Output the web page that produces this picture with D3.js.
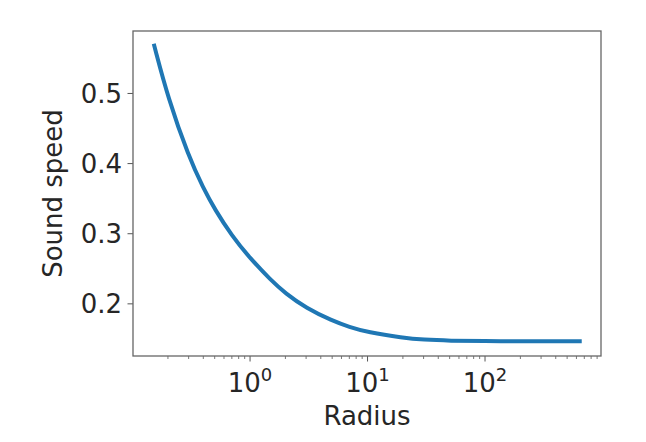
<!DOCTYPE html>
<meta charset="utf-8">
<html>
<head>
<title>Sound speed</title>
<script src="https://d3js.org/d3.v7.min.js"></script>
<style>
  body { margin: 0; background: #fff; }
  text { font-family: "DejaVu Sans", sans-serif; fill: #262626; }
</style>
</head>
<body>
<script>

// values
var radius = [0.153, 0.2, 0.3, 0.4, 0.5, 0.7, 1, 1.5, 2, 3, 5, 7, 10, 20, 30, 50, 100, 200, 400, 640];
var soundSpeed = [0.568, 0.494, 0.410, 0.365, 0.335, 0.297, 0.265, 0.234, 0.215, 0.194, 0.176, 0.167, 0.1595, 0.1515, 0.1488, 0.1474, 0.1468, 0.1467, 0.1467, 0.1467];
var yTicks = [0.2, 0.3, 0.4, 0.5];
var xDecades = [0, 1, 2];

var width = 646,
    height = 442,
    margin = {top: 31, right: 45, bottom: 86, left: 133};

var svg = d3.select("body").append("svg")
    .attr("width", width)
    .attr("height", height);

// matplotlib style 5% margins
var lx = d3.extent(radius).map(Math.log10),
    padX = (lx[1] - lx[0]) * 0.05;
var ey = d3.extent(soundSpeed),
    padY = (ey[1] - ey[0]) * 0.05;

var x = d3.scaleLog()
    .domain([Math.pow(10, lx[0] - padX), Math.pow(10, lx[1] + padX)])
    .range([margin.left, width - margin.right]);

var y = d3.scaleLinear()
    .domain([ey[0] - padY, ey[1] + padY])
    .range([height - margin.bottom, margin.top]);

var data = radius.map(function(r, i) { return {r: r, c: soundSpeed[i]}; });

// minor ticks for the log axis
var minor = [];
for (var k = -2; k <= 3; k++) {
  for (var m = 2; m <= 9; m++) {
    var v = m * Math.pow(10, k);
    if (v >= x.domain()[0] && v <= x.domain()[1]) minor.push(v);
  }
}

var bottom = height - margin.bottom;

svg.append("g")
    .selectAll("line.minor")
    .data(minor)
    .enter().append("line")
    .attr("x1", function(d) { return x(d); })
    .attr("x2", function(d) { return x(d); })
    .attr("y1", bottom)
    .attr("y2", bottom + 3)
    .attr("stroke", "#555")
    .attr("stroke-width", 0.8);

var xt = svg.append("g")
    .selectAll("g")
    .data(xDecades)
    .enter().append("g")
    .attr("transform", function(d) { return "translate(" + x(Math.pow(10, d)) + "," + bottom + ")"; });

xt.append("line")
    .attr("y2", 5.5)
    .attr("stroke", "#555")
    .attr("stroke-width", 1);

var lab = xt.append("text")
    .attr("y", 36)
    .attr("text-anchor", "middle")
    .style("font-size", "26px");
lab.append("tspan").text("10");
lab.append("tspan")
    .attr("dy", -11)
    .style("font-size", "18px")
    .text(function(d) { return d; });

var yt = svg.append("g")
    .selectAll("g")
    .data(yTicks)
    .enter().append("g")
    .attr("transform", function(d) { return "translate(" + margin.left + "," + y(d) + ")"; });

yt.append("line")
    .attr("x2", -5.5)
    .attr("stroke", "#555")
    .attr("stroke-width", 1);

yt.append("text")
    .attr("x", -11)
    .attr("dy", "0.35em")
    .attr("text-anchor", "end")
    .style("font-size", "26px")
    .text(function(d) { return d.toFixed(1); });

// curve
var line = d3.line()
    .x(function(d) { return x(d.r); })
    .y(function(d) { return y(d.c); })
    .curve(d3.curveBasis);

svg.append("path")
    .datum(data)
    .attr("d", line)
    .attr("fill", "none")
    .attr("stroke", "#1f77b4")
    .attr("stroke-width", 4)
    .attr("stroke-linecap", "square")
    .attr("stroke-linejoin", "round");

// frame
svg.append("rect")
    .attr("x", margin.left)
    .attr("y", margin.top)
    .attr("width", width - margin.left - margin.right)
    .attr("height", height - margin.top - margin.bottom)
    .attr("fill", "none")
    .attr("stroke", "#666")
    .attr("stroke-width", 1.3);

svg.append("text")
    .attr("x", (margin.left + width - margin.right) / 2)
    .attr("y", 425)
    .attr("text-anchor", "middle")
    .style("font-size", "26px")
    .text("Radius");

svg.append("text")
    .attr("transform", "translate(62," + (margin.top + (height - margin.top - margin.bottom) / 2) + ") rotate(-90)")
    .attr("text-anchor", "middle")
    .style("font-size", "26px")
    .text("Sound speed");

</script>
</body>
</html>
